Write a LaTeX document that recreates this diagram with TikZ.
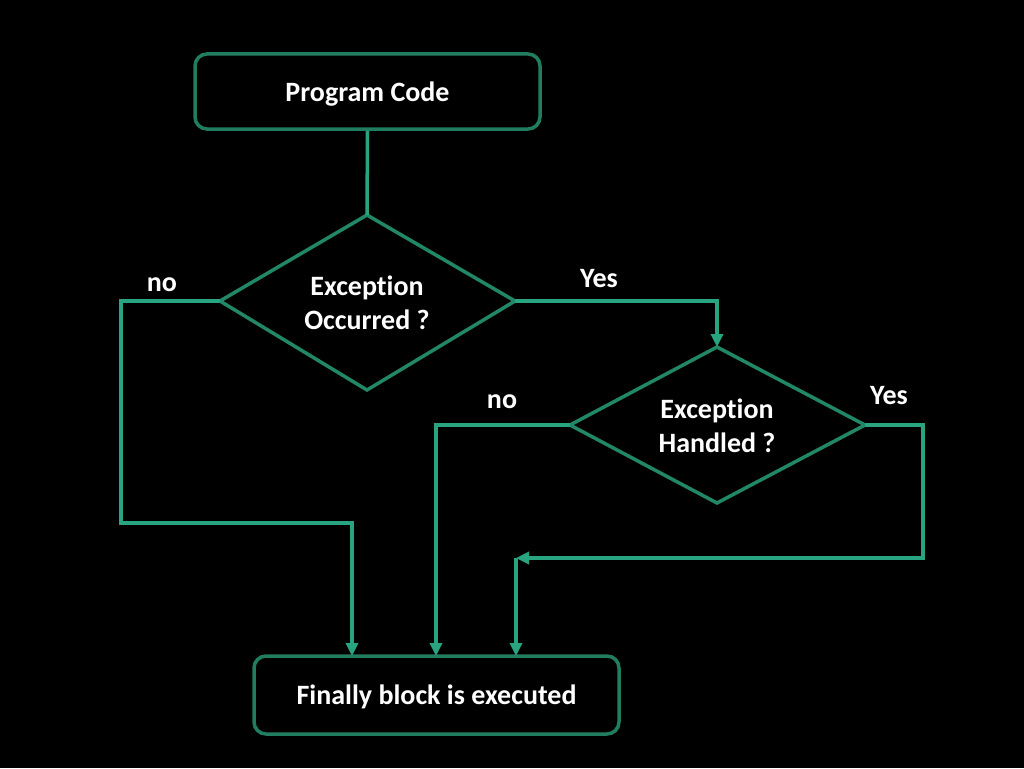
\documentclass[tikz,border=0pt]{standalone}
\usepackage{fontspec}
\setmainfont[Ligatures={NoCommon}]{Carlito}
\usetikzlibrary{shapes.geometric,arrows.meta}
\definecolor{boxc}{RGB}{33,125,96}
\definecolor{diac}{RGB}{34,135,103}
\definecolor{linec}{RGB}{40,165,128}
\begin{document}
\begin{tikzpicture}[x=1pt,y=-1pt,
  every node/.style={text=white,font=\bfseries\fontsize{28}{34}\selectfont},
  boxstyle/.style={draw=boxc,line width=3.5pt,rounded corners=12pt,inner sep=0pt,text height=25pt,text depth=6pt},
  diastyle/.style={draw=diac,line width=3.5pt},
  conn/.style={draw=linec,line width=3.5pt},
  arr/.style={conn,-{Triangle[length=13pt,width=12pt]}},
  lbl/.style={inner sep=0pt}]
\fill[black] (0,0) rectangle (1024,768);
\useasboundingbox (0,0) rectangle (1024,768);
% boxes
\node[boxstyle,minimum width=345pt,minimum height=75pt] (prog) at (367.5,91.5) {Program Code};
\node[boxstyle,minimum width=365pt,minimum height=78pt] (fin) at (436.5,695) {Finally block is executed};
% diamonds
\draw[diastyle] (367,215) coordinate (d1t) -- (515,301) coordinate (d1r) -- (367,390) coordinate (d1b) -- (220,301) coordinate (d1l) -- cycle;
\node[lbl,align=center] (d1) at (367,303) {Exception\\Occurred ?};
\draw[diastyle] (717,347) coordinate (d2t) -- (865,425) coordinate (d2r) -- (717,503) coordinate (d2b) -- (570,425) coordinate (d2l) -- cycle;
\node[lbl,align=center] (d2) at (717,426) {Exception\\Handled ?};
% corner coordinates
\coordinate (merge) at (516,558);
% connectors
\draw[conn] (prog.south) -- (d1t);
\draw[arr] (d1r) -- (717,301) -- (d2t);
\draw[arr] (d1l) -- (121,301) -- (121,523) -- (352,523) -- (352,656);
\draw[arr] (d2l) -- (436,425) -- (436,656);
\draw[arr] (d2r) -- (923,425) -- (923,558) -- (merge);
\draw[arr] (merge) -- (516,656);
% labels
\node[lbl] (no1) at (162,285) {no};
\node[lbl] (yes1) at (599,279) {Yes};
\node[lbl] (no2) at (502,402) {no};
\node[lbl] (yes2) at (889,396) {Yes};
\end{tikzpicture}
\end{document}
